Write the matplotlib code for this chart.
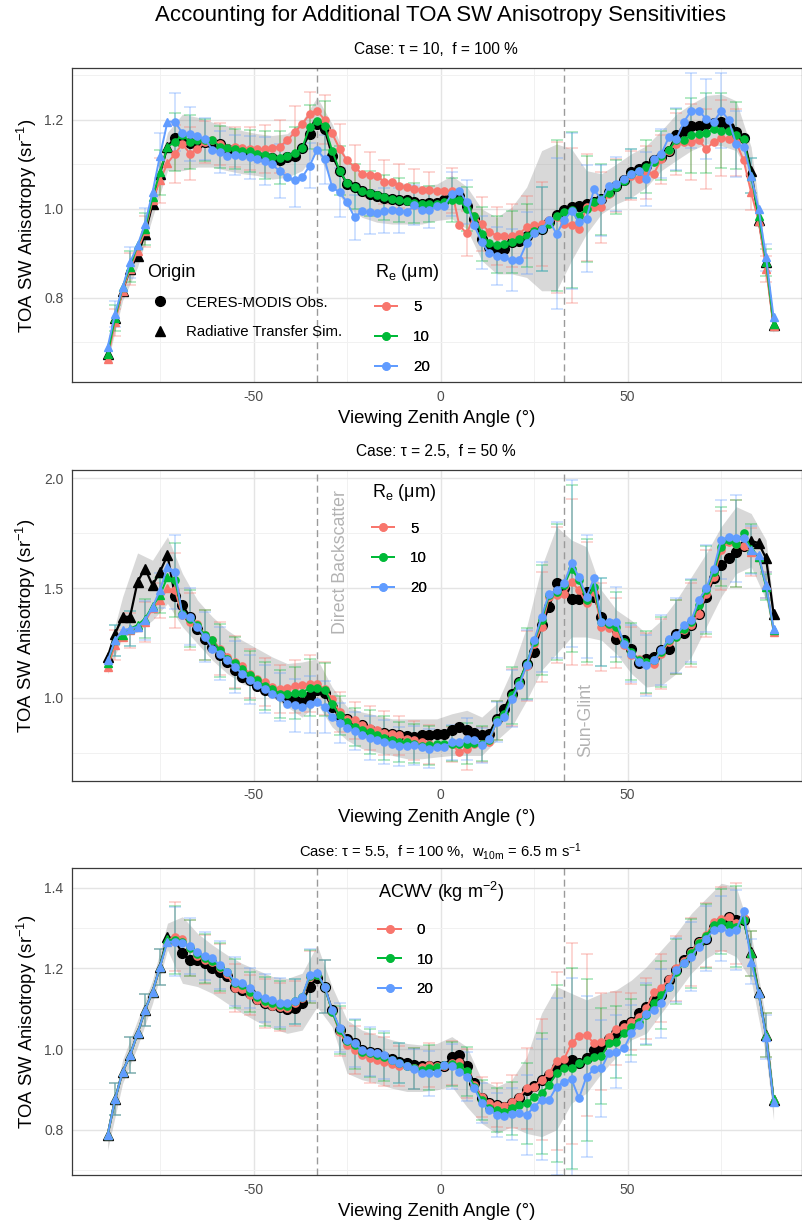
import numpy as np
import matplotlib
matplotlib.use("Agg")
import matplotlib.pyplot as plt
from matplotlib.lines import Line2D
from matplotlib.ticker import FormatStrFormatter, MultipleLocator

plt.rcParams.update({
    "font.family": ["Liberation Sans", "DejaVu Sans"],
    "mathtext.fontset": "custom",
    "mathtext.rm": "Liberation Sans",
    "mathtext.it": "Liberation Sans:italic",
    "mathtext.bf": "Liberation Sans:bold",
    "axes.unicode_minus": False,
})

RED, GREEN, BLUE = "#F8766D", "#00BA38", "#619CFF"
W, H = 803, 1224

# viewing zenith angle bins (deg)
vza = np.arange(-89, 90, 2)
bar_x = np.r_[np.arange(-87, 0, 4), np.arange(3, 88, 4)]
rib_x = np.r_[np.arange(-89, 88, 4), 89]

# ---- panel 1 : tau = 10, f = 100 %  (Re = 5 / 10 / 20 um) ----
p1_black = [0.673, 0.755, 0.816, 0.865, 0.895, 0.944, 1.011, 1.079, 1.140, 1.160,
            1.150, 1.148, 1.146, 1.150, 1.148, 1.145, 1.135, 1.133, 1.127, 1.125,
            1.120, 1.116, 1.114, 1.109, 1.116, 1.120, 1.137, 1.169, 1.191, 1.180,
            1.120, 1.086, 1.056, 1.049, 1.041, 1.034, 1.030, 1.025, 1.022, 1.019,
            1.020, 1.015, 1.011, 1.013, 1.013, 1.019, 1.026, 1.030, 1.007, 0.978,
            0.933, 0.914, 0.910, 0.910, 0.925, 0.929, 0.940, 0.951, 0.955, 0.970,
            0.987, 0.998, 1.004, 1.007, 1.011, 1.015, 1.022, 1.037, 1.052, 1.064,
            1.082, 1.090, 1.097, 1.110, 1.116, 1.131, 1.167, 1.176, 1.187, 1.187,
            1.191, 1.192, 1.195, 1.184, 1.172, 1.160, 1.086, 0.975, 0.880, 0.738]
p1_re5 = [0.663, 0.745, 0.816, 0.865, 0.906, 0.950, 1.019, 1.064, 1.103, 1.124,
          1.146, 1.124, 1.135, 1.150, 1.154, 1.146, 1.137, 1.140, 1.137, 1.135,
          1.135, 1.135, 1.137, 1.140, 1.154, 1.172, 1.191, 1.213, 1.221, 1.200,
          1.170, 1.135, 1.109, 1.094, 1.079, 1.077, 1.075, 1.060, 1.060, 1.052,
          1.049, 1.045, 1.043, 1.043, 1.040, 1.040, 1.041, 0.963, 0.945, 0.985,
          0.966, 0.948, 0.940, 0.938, 0.940, 0.944, 0.959, 0.963, 0.966, 0.974,
          0.981, 0.966, 0.963, 0.955, 1.004, 1.004, 1.004, 1.034, 1.052, 1.064,
          1.075, 1.067, 1.082, 1.079, 1.112, 1.131, 1.146, 1.150, 1.150, 1.154,
          1.135, 1.150, 1.160, 1.157, 1.150, 1.109, 1.037, 0.973, 0.865, 0.736]
p1_re10 = [0.673, 0.755, 0.824, 0.870, 0.918, 0.955, 1.026, 1.082, 1.140, 1.150,
           1.167, 1.150, 1.154, 1.155, 1.155, 1.140, 1.137, 1.135, 1.131, 1.130,
           1.124, 1.122, 1.116, 1.115, 1.120, 1.125, 1.137, 1.184, 1.197, 1.187,
           1.131, 1.086, 1.058, 1.050, 1.040, 1.035, 1.032, 1.026, 1.022, 1.020,
           1.017, 1.013, 1.011, 1.011, 1.011, 1.015, 1.020, 1.019, 1.000, 0.985,
           0.944, 0.923, 0.920, 0.921, 0.925, 0.933, 0.940, 0.951, 0.955, 0.966,
           0.985, 0.993, 0.998, 0.985, 1.000, 1.015, 1.022, 1.035, 1.049, 1.062,
           1.079, 1.085, 1.095, 1.105, 1.120, 1.133, 1.155, 1.155, 1.165, 1.168,
           1.170, 1.180, 1.176, 1.176, 1.165, 1.157, 1.075, 0.985, 0.880, 0.742]
p1_re20 = [0.689, 0.764, 0.824, 0.880, 0.918, 0.966, 1.037, 1.120, 1.196, 1.196,
           1.170, 1.168, 1.163, 1.157, 1.133, 1.127, 1.120, 1.121, 1.120, 1.116,
           1.112, 1.107, 1.100, 1.085, 1.071, 1.065, 1.071, 1.097, 1.133, 1.112,
           1.049, 1.037, 1.015, 0.981, 0.995, 0.993, 0.990, 0.996, 0.997, 0.996,
           0.993, 1.008, 0.997, 0.997, 1.007, 1.007, 1.034, 1.041, 1.015, 0.963,
           0.925, 0.900, 0.895, 0.891, 0.885, 0.885, 0.923, 0.945, 0.955, 0.974,
           0.944, 0.974, 0.996, 0.970, 0.978, 1.045, 1.019, 1.052, 1.056, 1.067,
           1.079, 1.086, 1.067, 1.112, 1.124, 1.161, 1.157, 1.195, 1.221, 1.221,
           1.202, 1.195, 1.221, 1.200, 1.146, 1.140, 1.075, 1.000, 0.891, 0.757]
p1_err = [0.030, 0.035, 0.035, 0.050, 0.065, 0.060, 0.047, 0.047, 0.045, 0.048, 0.054,
          0.060, 0.060, 0.050, 0.055, 0.055, 0.050, 0.050, 0.050, 0.050, 0.045, 0.040,
          0.050, 0.050, 0.060, 0.065, 0.070, 0.070, 0.095, 0.170, 0.175, 0.120, 0.080,
          0.060, 0.055, 0.060, 0.055, 0.070, 0.085, 0.090, 0.085, 0.075, 0.040, 0.030]
p1_rib_lo = [0.655, 0.794, 0.869, 0.981, 1.086, 1.086, 1.094, 1.094, 1.086, 1.079, 1.075,
             1.067, 1.071, 1.086, 1.131, 1.056, 1.004, 0.981, 0.970, 0.966, 0.966, 0.966,
             0.974, 0.978, 0.955, 0.884, 0.854, 0.854, 0.846, 0.816, 0.816, 0.884, 0.944,
             0.989, 1.011, 1.026, 1.049, 1.086, 1.109, 1.131, 1.146, 1.142, 1.131, 1.071,
             0.854, 0.719]
p1_rib_hi = [0.690, 0.835, 0.925, 1.041, 1.172, 1.213, 1.206, 1.195, 1.187, 1.176, 1.169,
             1.165, 1.169, 1.198, 1.251, 1.191, 1.109, 1.082, 1.071, 1.064, 1.056, 1.052,
             1.056, 1.075, 1.050, 1.000, 0.981, 1.004, 1.049, 1.131, 1.146, 1.135, 1.086,
             1.079, 1.101, 1.124, 1.142, 1.176, 1.213, 1.236, 1.255, 1.258, 1.243, 1.139,
             0.891, 0.749]

# ---- panel 2 : tau = 2.5, f = 50 % ----
p2_black = [1.186, 1.292, 1.369, 1.369, 1.528, 1.589, 1.513, 1.574, 1.650, 1.463,
            1.422, 1.369, 1.315, 1.270, 1.232, 1.194, 1.163, 1.125, 1.095, 1.080,
            1.052, 1.037, 1.026, 1.011, 0.995, 0.988, 0.981, 1.010, 1.035, 1.020,
            0.958, 0.912, 0.904, 0.874, 0.874, 0.855, 0.844, 0.839, 0.833, 0.829,
            0.824, 0.821, 0.829, 0.829, 0.836, 0.836, 0.855, 0.867, 0.855, 0.839,
            0.829, 0.836, 0.904, 0.950, 1.019, 1.072, 1.153, 1.209, 1.331, 1.414,
            1.521, 1.498, 1.452, 1.448, 1.483, 1.460, 1.369, 1.338, 1.270, 1.262,
            1.224, 1.159, 1.178, 1.186, 1.216, 1.224, 1.292, 1.296, 1.331, 1.384,
            1.460, 1.544, 1.604, 1.635, 1.665, 1.690, 1.715, 1.705, 1.635, 1.384]
p2_re5 = [1.140, 1.240, 1.277, 1.308, 1.323, 1.346, 1.407, 1.444, 1.498, 1.490,
          1.376, 1.346, 1.338, 1.285, 1.262, 1.224, 1.186, 1.163, 1.143, 1.110,
          1.087, 1.072, 1.049, 1.041, 1.046, 1.052, 1.057, 1.064, 1.061, 1.041,
          0.996, 0.935, 0.904, 0.897, 0.874, 0.864, 0.851, 0.839, 0.836, 0.829,
          0.813, 0.806, 0.798, 0.787, 0.783, 0.783, 0.787, 0.752, 0.768, 0.791,
          0.787, 0.798, 0.897, 0.920, 1.003, 1.064, 1.143, 1.247, 1.323, 1.460,
          1.467, 1.472, 1.528, 1.490, 1.430, 1.483, 1.323, 1.320, 1.296, 1.239,
          1.194, 1.178, 1.156, 1.153, 1.201, 1.255, 1.277, 1.308, 1.331, 1.384,
          1.475, 1.551, 1.673, 1.711, 1.703, 1.690, 1.665, 1.643, 1.513, 1.300]
p2_re10 = [1.159, 1.262, 1.285, 1.315, 1.331, 1.361, 1.417, 1.467, 1.551, 1.536,
           1.384, 1.361, 1.331, 1.285, 1.262, 1.216, 1.178, 1.159, 1.133, 1.102,
           1.080, 1.052, 1.041, 1.018, 1.018, 1.022, 1.022, 1.046, 1.046, 1.037,
           0.973, 0.920, 0.889, 0.867, 0.851, 0.844, 0.829, 0.818, 0.809, 0.798,
           0.798, 0.791, 0.778, 0.783, 0.787, 0.787, 0.791, 0.787, 0.791, 0.794,
           0.791, 0.806, 0.897, 0.927, 1.011, 1.072, 1.156, 1.255, 1.353, 1.467,
           1.483, 1.513, 1.589, 1.536, 1.445, 1.503, 1.346, 1.338, 1.323, 1.255,
           1.209, 1.171, 1.163, 1.171, 1.209, 1.262, 1.277, 1.315, 1.346, 1.422,
           1.490, 1.574, 1.688, 1.719, 1.703, 1.749, 1.680, 1.643, 1.505, 1.308]
p2_re20 = [1.170, 1.262, 1.308, 1.315, 1.323, 1.353, 1.414, 1.490, 1.597, 1.574,
           1.376, 1.369, 1.323, 1.277, 1.224, 1.201, 1.171, 1.140, 1.110, 1.083,
           1.057, 1.041, 1.018, 1.003, 0.973, 0.965, 0.958, 0.970, 0.980, 0.958,
           0.912, 0.885, 0.863, 0.848, 0.829, 0.818, 0.809, 0.798, 0.791, 0.778,
           0.778, 0.783, 0.775, 0.768, 0.775, 0.775, 0.798, 0.798, 0.813, 0.806,
           0.783, 0.813, 0.889, 0.912, 0.996, 1.057, 1.148, 1.262, 1.369, 1.475,
           1.490, 1.521, 1.612, 1.551, 1.460, 1.544, 1.346, 1.346, 1.346, 1.247,
           1.201, 1.163, 1.148, 1.171, 1.216, 1.270, 1.285, 1.331, 1.353, 1.445,
           1.498, 1.589, 1.719, 1.734, 1.726, 1.726, 1.672, 1.650, 1.513, 1.315]
p2_err = [0.070, 0.080, 0.090, 0.080, 0.170, 0.130, 0.115, 0.120, 0.120, 0.110, 0.110,
          0.110, 0.120, 0.130, 0.120, 0.090, 0.085, 0.100, 0.100, 0.090, 0.090, 0.090,
          0.080, 0.095, 0.080, 0.090, 0.130, 0.160, 0.250, 0.310, 0.380, 0.280, 0.200,
          0.160, 0.130, 0.140, 0.160, 0.170, 0.190, 0.200, 0.180, 0.200, 0.110, 0.060]
p2_rib_lo = [1.110, 1.277, 1.300, 1.353, 1.430, 1.323, 1.247, 1.171, 1.110, 1.064, 1.041,
             1.003, 0.958, 0.912, 0.973, 0.867, 0.806, 0.768, 0.752, 0.737, 0.722, 0.722,
             0.730, 0.737, 0.737, 0.737, 0.806, 0.867, 0.988, 1.125, 1.201, 1.277, 1.277,
             1.262, 1.200, 1.110, 1.049, 1.057, 1.110, 1.186, 1.323, 1.460, 1.566, 1.597,
             1.445, 1.277]
p2_rib_hi = [1.201, 1.460, 1.660, 1.627, 1.734, 1.566, 1.445, 1.369, 1.308, 1.262, 1.224,
             1.186, 1.156, 1.163, 1.178, 1.049, 0.958, 0.935, 0.920, 0.904, 0.904, 0.904,
             0.904, 0.927, 0.943, 0.912, 0.973, 1.125, 1.323, 1.597, 1.780, 1.719, 1.688,
             1.490, 1.400, 1.353, 1.292, 1.353, 1.445, 1.551, 1.658, 1.780, 1.871, 1.840,
             1.719, 1.414]

# ---- panel 3 : tau = 5.5, f = 100 %, w10m = 6.5 m/s  (ACWV = 0 / 10 / 20) ----
p3_black = [0.787, 0.876, 0.944, 0.985, 1.039, 1.097, 1.142, 1.204, 1.279, 1.270,
            1.237, 1.221, 1.221, 1.213, 1.200, 1.192, 1.180, 1.155, 1.147, 1.138,
            1.123, 1.113, 1.109, 1.105, 1.099, 1.101, 1.113, 1.155, 1.177, 1.155,
            1.097, 1.047, 1.025, 1.015, 0.998, 0.994, 0.990, 0.981, 0.975, 0.969,
            0.965, 0.961, 0.958, 0.957, 0.957, 0.957, 0.981, 0.985, 0.957, 0.915,
            0.878, 0.866, 0.862, 0.857, 0.866, 0.878, 0.899, 0.909, 0.924, 0.936,
            0.955, 0.966, 0.973, 0.966, 0.977, 0.998, 1.006, 1.024, 1.039, 1.060,
            1.068, 1.089, 1.105, 1.122, 1.134, 1.171, 1.196, 1.221, 1.241, 1.266,
            1.274, 1.303, 1.316, 1.328, 1.320, 1.320, 1.241, 1.142, 1.035, 0.874]
p3_w0 = [0.787, 0.876, 0.944, 0.985, 1.039, 1.097, 1.142, 1.204, 1.270, 1.279,
         1.272, 1.250, 1.230, 1.222, 1.215, 1.200, 1.185, 1.151, 1.148, 1.134,
         1.122, 1.113, 1.107, 1.105, 1.101, 1.113, 1.126, 1.178, 1.184, 1.155,
         1.093, 1.043, 1.010, 0.998, 0.985, 0.977, 0.973, 0.969, 0.963, 0.958,
         0.958, 0.952, 0.955, 0.961, 0.957, 0.958, 0.965, 0.967, 0.940, 0.911,
         0.882, 0.866, 0.862, 0.859, 0.870, 0.882, 0.903, 0.907, 0.924, 0.940,
         0.971, 0.975, 1.014, 1.033, 1.035, 1.014, 1.018, 1.031, 1.051, 1.055,
         1.068, 1.080, 1.101, 1.142, 1.151, 1.173, 1.200, 1.218, 1.241, 1.266,
         1.283, 1.316, 1.322, 1.328, 1.312, 1.324, 1.237, 1.138, 1.035, 0.876]
p3_w10 = [0.787, 0.876, 0.944, 0.985, 1.039, 1.097, 1.142, 1.204, 1.272, 1.270,
          1.266, 1.250, 1.235, 1.225, 1.219, 1.204, 1.190, 1.163, 1.159, 1.142,
          1.130, 1.118, 1.113, 1.109, 1.107, 1.118, 1.130, 1.180, 1.184, 1.155,
          1.093, 1.047, 1.019, 1.011, 0.994, 0.990, 0.986, 0.981, 0.973, 0.966,
          0.957, 0.952, 0.948, 0.954, 0.956, 0.961, 0.963, 0.957, 0.945, 0.907,
          0.874, 0.853, 0.849, 0.845, 0.853, 0.862, 0.866, 0.882, 0.891, 0.911,
          0.940, 0.952, 0.952, 0.965, 0.973, 0.980, 0.983, 1.014, 1.018, 1.039,
          1.055, 1.068, 1.085, 1.113, 1.134, 1.155, 1.192, 1.214, 1.237, 1.262,
          1.280, 1.308, 1.316, 1.308, 1.303, 1.320, 1.237, 1.138, 1.035, 0.876]
p3_w20 = [0.787, 0.876, 0.944, 0.985, 1.039, 1.097, 1.142, 1.204, 1.266, 1.266,
          1.262, 1.255, 1.240, 1.230, 1.225, 1.208, 1.192, 1.167, 1.163, 1.151,
          1.134, 1.126, 1.122, 1.115, 1.113, 1.118, 1.130, 1.184, 1.189, 1.155,
          1.097, 1.053, 1.023, 1.015, 0.998, 0.994, 0.990, 0.985, 0.973, 0.966,
          0.957, 0.950, 0.940, 0.940, 0.940, 0.961, 0.957, 0.944, 0.932, 0.903,
          0.866, 0.849, 0.837, 0.833, 0.839, 0.841, 0.837, 0.857, 0.874, 0.874,
          0.907, 0.919, 0.925, 0.878, 0.932, 0.950, 0.952, 0.991, 0.994, 1.002,
          1.039, 1.060, 1.088, 1.097, 1.113, 1.155, 1.196, 1.214, 1.229, 1.254,
          1.274, 1.295, 1.299, 1.291, 1.295, 1.341, 1.217, 1.138, 1.030, 0.870]
p3_err = [0.040, 0.045, 0.040, 0.045, 0.085, 0.070, 0.060, 0.060, 0.060, 0.050, 0.060,
          0.060, 0.055, 0.065, 0.065, 0.060, 0.060, 0.060, 0.060, 0.050, 0.050, 0.055,
          0.055, 0.060, 0.050, 0.055, 0.065, 0.100, 0.150, 0.220, 0.250, 0.200, 0.120,
          0.090, 0.070, 0.075, 0.085, 0.080, 0.085, 0.080, 0.080, 0.100, 0.055, 0.055]
p3_rib_lo = [0.750, 0.915, 1.006, 1.113, 1.246, 1.163, 1.155, 1.138, 1.113, 1.089, 1.068,
             1.052, 1.039, 1.047, 1.105, 1.055, 0.940, 0.924, 0.915, 0.903, 0.895, 0.895,
             0.899, 0.907, 0.857, 0.816, 0.791, 0.808, 0.791, 0.783, 0.800, 0.866, 0.891,
             0.940, 0.981, 1.023, 1.039, 1.089, 1.138, 1.188, 1.225, 1.246, 1.229, 1.171,
             0.981, 0.824]
p3_rib_hi = [0.808, 0.973, 1.072, 1.171, 1.312, 1.328, 1.287, 1.258, 1.233, 1.212, 1.196,
             1.180, 1.175, 1.188, 1.258, 1.155, 1.072, 1.047, 1.035, 1.023, 1.014, 1.010,
             1.014, 1.031, 1.006, 0.924, 0.907, 0.924, 0.981, 1.089, 1.155, 1.138, 1.122,
             1.138, 1.147, 1.171, 1.204, 1.246, 1.287, 1.336, 1.374, 1.411, 1.402, 1.287,
             1.072, 0.899]

fig = plt.figure(figsize=(W / 100, H / 100), dpi=100)


def px_axes(top, bottom, left=71.7, right=802):
    return fig.add_axes([left / W, 1 - bottom / H, (right - left) / W, (bottom - top) / H])


def draw_panel(ax, black, series, err, lo, hi, ylim, major, minor):
    sim = (vza <= -73) | (vza >= 83)
    idx = np.searchsorted(vza, bar_x)
    ax.fill_between(rib_x, lo, hi, color="grey", alpha=0.3, lw=0, zorder=1)
    for vals, col in zip(series, (RED, GREEN, BLUE)):
        vals = np.asarray(vals)
        ax.errorbar(bar_x, vals[idx], yerr=err, fmt="none", ecolor=col, alpha=0.32,
                    elinewidth=1.3, capsize=4.6, capthick=1.3, zorder=2)
    black = np.asarray(black)
    ax.plot(vza, black, color="black", lw=1.6, zorder=3)
    ax.plot(vza[~sim], black[~sim], "o", color="black", ms=7, zorder=3)
    ax.plot(vza[sim], black[sim], "^", color="black", ms=7, zorder=3)
    for vals, col in zip(series, (RED, GREEN, BLUE)):
        vals = np.asarray(vals)
        ax.plot(vza, vals, color=col, lw=1.4, zorder=4)
        ax.plot(vza[~sim], vals[~sim], "o", color=col, ms=5.2, zorder=4)
        ax.plot(vza[sim], vals[sim], "^", color=col, ms=6, zorder=4)
    for xv in (-33, 33):
        ax.axvline(xv, color="#9a9a9a", lw=1.0, ls=(0, (5, 3)), zorder=1.5)

    ax.set_xlim(-98.6, 96.6)
    ax.set_ylim(*ylim)
    ax.xaxis.set_major_locator(MultipleLocator(50))
    ax.xaxis.set_minor_locator(MultipleLocator(25))
    ax.yaxis.set_major_locator(MultipleLocator(major))
    ax.yaxis.set_minor_locator(MultipleLocator(minor))
    ax.yaxis.set_major_formatter(FormatStrFormatter("%.1f"))
    ax.grid(which="major", color="#e4e4e4", lw=1.0, zorder=0)
    ax.grid(which="minor", color="#f1f1f1", lw=0.7, zorder=0)
    ax.set_axisbelow(True)
    ax.tick_params(which="both", length=0, labelsize=10, labelcolor="#4d4d4d")
    ax.tick_params(axis="x", pad=5.5)
    ax.tick_params(axis="y", pad=6)
    for s in ax.spines.values():
        s.set_color("#3a3a3a")
        s.set_linewidth(0.9)
    ax.set_xlabel("Viewing Zenith Angle (°)", fontsize=13.3, labelpad=4.5)
    ax.set_ylabel(r"TOA SW Anisotropy (sr$^{-1}$)", fontsize=13.3, labelpad=4)


def legend_at(ax, handles, labels, title, left, title_base, row1, hlen, hpad):
    # title drawn separately so the title/row gap matches the reference
    fig.text(left / W, 1 - title_base / H, title, ha="left", va="baseline", fontsize=13)
    leg = ax.legend(handles, labels, loc="upper left",
                    bbox_to_anchor=(left / W, 1 - (row1 - 5.4) / H),
                    bbox_transform=fig.transFigure, frameon=False, fontsize=10.8,
                    handlelength=hlen, handletextpad=hpad, labelspacing=1.05,
                    borderpad=0, borderaxespad=0)
    ax.add_artist(leg)
    return leg


def colour_handles():
    return [Line2D([0, 1], [0, 0], color=c, lw=1.4, marker="o", ms=5.2)
            for c in (RED, GREEN, BLUE)]


RE_TITLE = r"R$_\mathrm{e}$ ($\mathrm{\mu}$m)"

ax1 = px_axes(68.3, 382)
draw_panel(ax1, p1_black, (p1_re5, p1_re10, p1_re20), p1_err, p1_rib_lo, p1_rib_hi,
           (0.611, 1.316), 0.2, 0.1)
origin_handles = [Line2D([], [], ls="", marker="o", color="black", ms=7),
                  Line2D([], [], ls="", marker="^", color="black", ms=7)]
legend_at(ax1, origin_handles, ["CERES-MODIS Obs.", "Radiative Transfer Sim."], "Origin",
          146.7, 276.7, 301, 1.8, 0.8)
legend_at(ax1, colour_handles(), ["5", "10", "20"], RE_TITLE, 375, 276.7, 305.7, 1.5, 1.05)

ax2 = px_axes(470, 780.7)
draw_panel(ax2, p2_black, (p2_re5, p2_re10, p2_re20), p2_err, p2_rib_lo, p2_rib_hi,
           (0.622, 2.038), 0.5, 0.25)
legend_at(ax2, colour_handles(), ["5", "10", "20"], RE_TITLE, 371.7, 497.3, 527, 1.5, 1.05)
ax2.text(-26.8, 1.62, "Direct Backscatter", rotation=90, ha="center", va="center",
         color="#b3b3b3", fontsize=12.8)
ax2.text(38.8, 0.898, "Sun-Glint", rotation=90, ha="center", va="center",
         color="#b3b3b3", fontsize=12.8)

ax3 = px_axes(868.3, 1175)
draw_panel(ax3, p3_black, (p3_w0, p3_w10, p3_w20), p3_err, p3_rib_lo, p3_rib_hi,
           (0.688, 1.448), 0.2, 0.1)
legend_at(ax3, colour_handles(), ["0", "10", "20"], r"ACWV (kg m$^{-2}$)",
          378.3, 898.3, 928.3, 1.5, 1.05)

fig.text(441 / W, 1 - 15 / H, "Accounting for Additional TOA SW Anisotropy Sensitivities",
         ha="center", va="center", fontsize=16)
fig.text(436 / W, 1 - 50 / H, "Case: τ = 10,  f = 100 %", ha="center", va="center",
         fontsize=11.2)
fig.text(436 / W, 1 - 451.7 / H, "Case: τ = 2.5,  f = 50 %", ha="center", va="center",
         fontsize=11.2)
fig.text(440 / W, 1 - 851.7 / H,
         r"Case: τ = 5.5,  f = 100 %,  w$_\mathrm{10m}$ = 6.5 m s$^{-1}$",
         ha="center", va="center", fontsize=10.6)

fig.savefig("out.png", dpi=100)
